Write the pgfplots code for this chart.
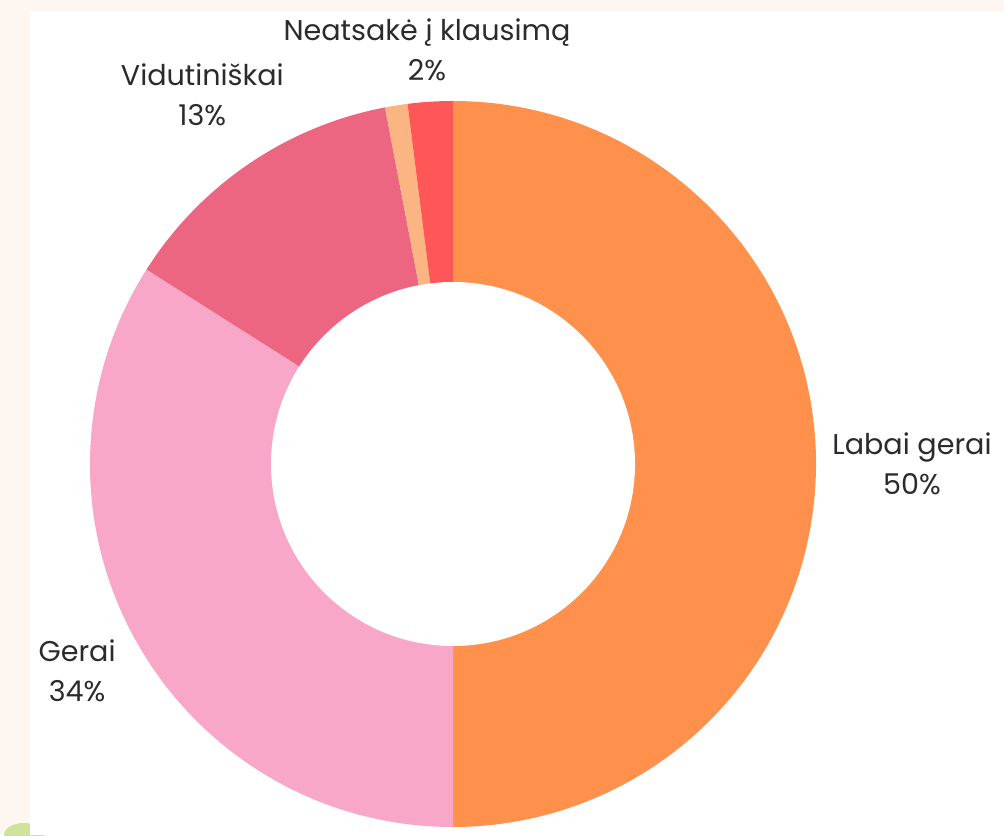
\documentclass[border=0pt]{standalone}
\usepackage{pgfplots}
\pgfplotsset{compat=1.18}
\usepackage{pgfplotstable}
\usepackage{fontspec}
\setmainfont{Poppins}
\definecolor{cA}{HTML}{FF914D}
\definecolor{cB}{HTML}{F8A7C9}
\definecolor{cC}{HTML}{EC6681}
\definecolor{cD}{HTML}{FBB583}
\definecolor{cE}{HTML}{FF5757}
\definecolor{bgcream}{HTML}{FDF6F1}
\definecolor{blob}{HTML}{CFE39A}
\definecolor{txt}{HTML}{2B2B2B}
\pgfplotstableread[col sep=comma]{
value,color,dist,label
50,cA,459,Labai gerai
34,cB,429,Gerai
13,cC,446,Vidutiniškai
1,cD,0,none
2,cE,415,Neatsakė į klausimą
}\slices
\begin{document}
\begin{tikzpicture}
\begin{axis}[x=0.5pt,y=0.5pt,xmin=0,xmax=1004,ymin=0,ymax=835,hide axis,clip=false,scale only axis]
\fill[bgcream] (axis cs:0,0) rectangle (axis cs:1004,835);
\begin{scope}
\clip (axis cs:0,0) rectangle (axis cs:1004,835);
\fill[blob] (axis cs:24,0) ellipse[x radius=10pt, y radius=6pt];
\end{scope}
\fill[white] (axis cs:30,0) rectangle (axis cs:1004,824);
\pgfplotstablegetrowsof{\slices}
\pgfmathtruncatemacro{\N}{\pgfplotsretval-1}
\def\cum{0}
\def\cx{453}\def\cy{371}
\pgfplotsforeachungrouped \i in {0,...,\N}{%
  \pgfplotstablegetelem{\i}{value}\of\slices\let\v\pgfplotsretval
  \pgfplotstablegetelem{\i}{color}\of\slices\let\col\pgfplotsretval
  \pgfplotstablegetelem{\i}{dist}\of\slices\let\dist\pgfplotsretval
  \pgfplotstablegetelem{\i}{label}\of\slices\let\lab\pgfplotsretval
  \pgfmathsetmacro{\aS}{90-3.6*\cum}%
  \pgfmathsetmacro{\aE}{90-3.6*(\cum+\v)}%
  \pgfmathsetmacro{\aM}{(\aS+\aE)/2}%
  \edef\temp{\noexpand\fill[\col] (axis cs:\cx,\cy) -- ++(\aS:181.5pt) arc[start angle=\aS,end angle=\aE,radius=181.5pt] -- cycle;}%
  \temp
  \pgfmathsetmacro{\lx}{\cx+\dist*cos(\aM)}%
  \pgfmathsetmacro{\ly}{\cy+\dist*sin(\aM)}%
  \ifdim\dist pt>0pt
    \edef\temp{\noexpand\node[align=center,text=txt,font=\noexpand\fontsize{14.3}{20}\noexpand\selectfont] at (axis cs:\lx,\ly) {\lab\noexpand\\\v\noexpand\%};}%
    \temp
  \fi
  \pgfmathsetmacro{\cum}{\cum+\v}%
}
\edef\temp{\noexpand\fill[white] (axis cs:\cx,\cy) circle[radius=91pt];}
\temp
\end{axis}
\end{tikzpicture}
\end{document}
